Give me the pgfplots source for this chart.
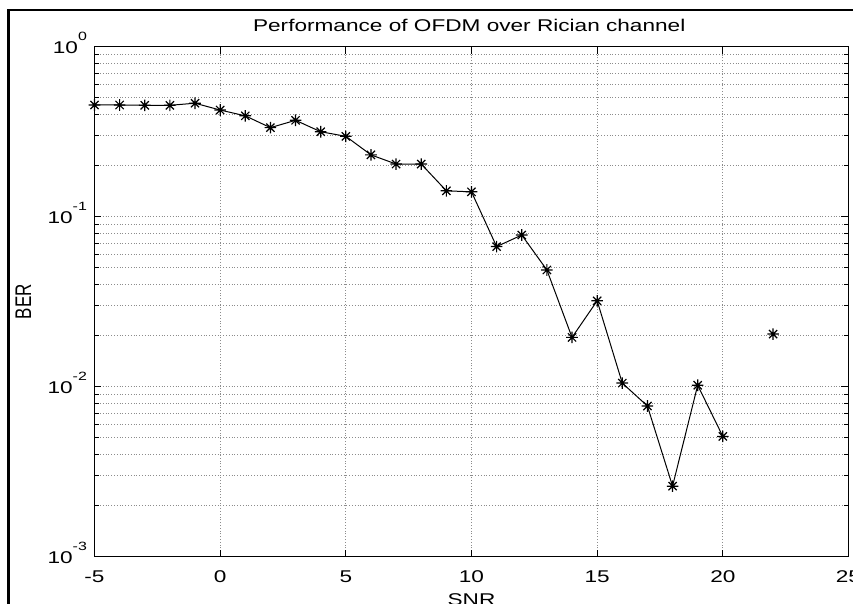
\documentclass[border=0pt]{standalone}
\usepackage{fontspec}
\setmainfont{Liberation Sans}[FakeStretch=1.33]
\newfontfamily\plainsans{Liberation Sans}
\usepackage{graphicx}
\usepackage{pgfplots}
\pgfplotsset{compat=1.18}

% MATLAB-like '*' marker: + and x on top of each other
\pgfdeclareplotmark{mstar}{%
  \pgfpathmoveto{\pgfqpoint{-\pgfplotmarksize}{0pt}}%
  \pgfpathlineto{\pgfqpoint{\pgfplotmarksize}{0pt}}%
  \pgfpathmoveto{\pgfqpoint{0pt}{-\pgfplotmarksize}}%
  \pgfpathlineto{\pgfqpoint{0pt}{\pgfplotmarksize}}%
  \pgfpathmoveto{\pgfqpoint{-.707\pgfplotmarksize}{-.707\pgfplotmarksize}}%
  \pgfpathlineto{\pgfqpoint{.707\pgfplotmarksize}{.707\pgfplotmarksize}}%
  \pgfpathmoveto{\pgfqpoint{-.707\pgfplotmarksize}{.707\pgfplotmarksize}}%
  \pgfpathlineto{\pgfqpoint{.707\pgfplotmarksize}{-.707\pgfplotmarksize}}%
  \pgfusepathqstroke}

\newcommand{\tenpow}[1]{10\raisebox{6.5pt}{\fontsize{6}{7}\selectfont #1}}

\begin{document}
\begin{tikzpicture}
\useasboundingbox (-47.25pt,-23.65pt) rectangle (379.25pt,278.35pt);
\clip (-47.25pt,-23.65pt) rectangle (379.25pt,278.35pt);
\draw[line width=1.3pt] (-43pt,273.35pt) rectangle (420pt,-60pt);
\begin{axis}[
  at={(0pt,0pt)}, anchor=south west,
  scale only axis,
  width=377pt, height=255pt,
  ymode=log,
  xmin=-5, xmax=25,
  ymin=1e-3, ymax=1,
  xtick={-5,0,5,10,15,20,25},
  xticklabels={-5,0,5,10,15,20,25},
  ytick={1e-3,1e-2,1e-1,1},
  yticklabels={\tenpow{-3},\tenpow{-2},\tenpow{-1},\tenpow{0}},
  minor x tick num=0,
  xmajorgrids, ymajorgrids, yminorgrids,
  major grid style={densely dotted, black!45, line width=0.45pt},
  minor grid style={densely dotted, black!45, line width=0.45pt},
  tick align=inside,
  major tick length=3.5pt,
  minor tick length=2.2pt,
  tick style={black, line width=0.5pt},
  axis line style={line width=0.6pt},
  tick label style={font=\fontsize{8.5}{10}\selectfont},
  xticklabel style={anchor=north, inner sep=0pt, yshift=-6.65pt},
  yticklabel style={anchor=base east, inner sep=0pt, xshift=-3.6pt, yshift=-3.65pt},
  xlabel={SNR},
  xlabel style={font=\fontsize{8.5}{10}\selectfont, at={(axis description cs:0.5,-0.0718)}, anchor=north, inner sep=0pt},
  ylabel={\scalebox{1}[1.33]{\plainsans BER}},
  ylabel style={font=\fontsize{8.5}{10}\selectfont, at={(axis description cs:-0.0944,0.5)}, anchor=center, inner sep=0pt},
  unbounded coords=jump,
  clip mode=individual,
]
\addplot[black, line width=0.5pt, mark=mstar, mark size=2.9pt, mark options={solid, line width=0.6pt}]
coordinates {
  (-5,0.454) (-4,0.454) (-3,0.452) (-2,0.452) (-1,0.465)
  (0,0.424) (1,0.392) (2,0.334) (3,0.369) (4,0.316)
  (5,0.297) (6,0.231) (7,0.204) (8,0.204) (9,0.142)
  (10,0.140) (11,0.0667) (12,0.078) (13,0.0486) (14,0.0195)
  (15,0.032) (16,0.0105) (17,0.0077) (18,0.0026) (19,0.0102)
  (20,0.0051) (21,nan) (22,0.0204)
};
\node[font=\fontsize{8.5}{10}\selectfont, anchor=base, inner sep=0pt]
  at (axis description cs:0.497,1.0294) {Performance of OFDM over Rician channel};
\end{axis}
\end{tikzpicture}
\end{document}
